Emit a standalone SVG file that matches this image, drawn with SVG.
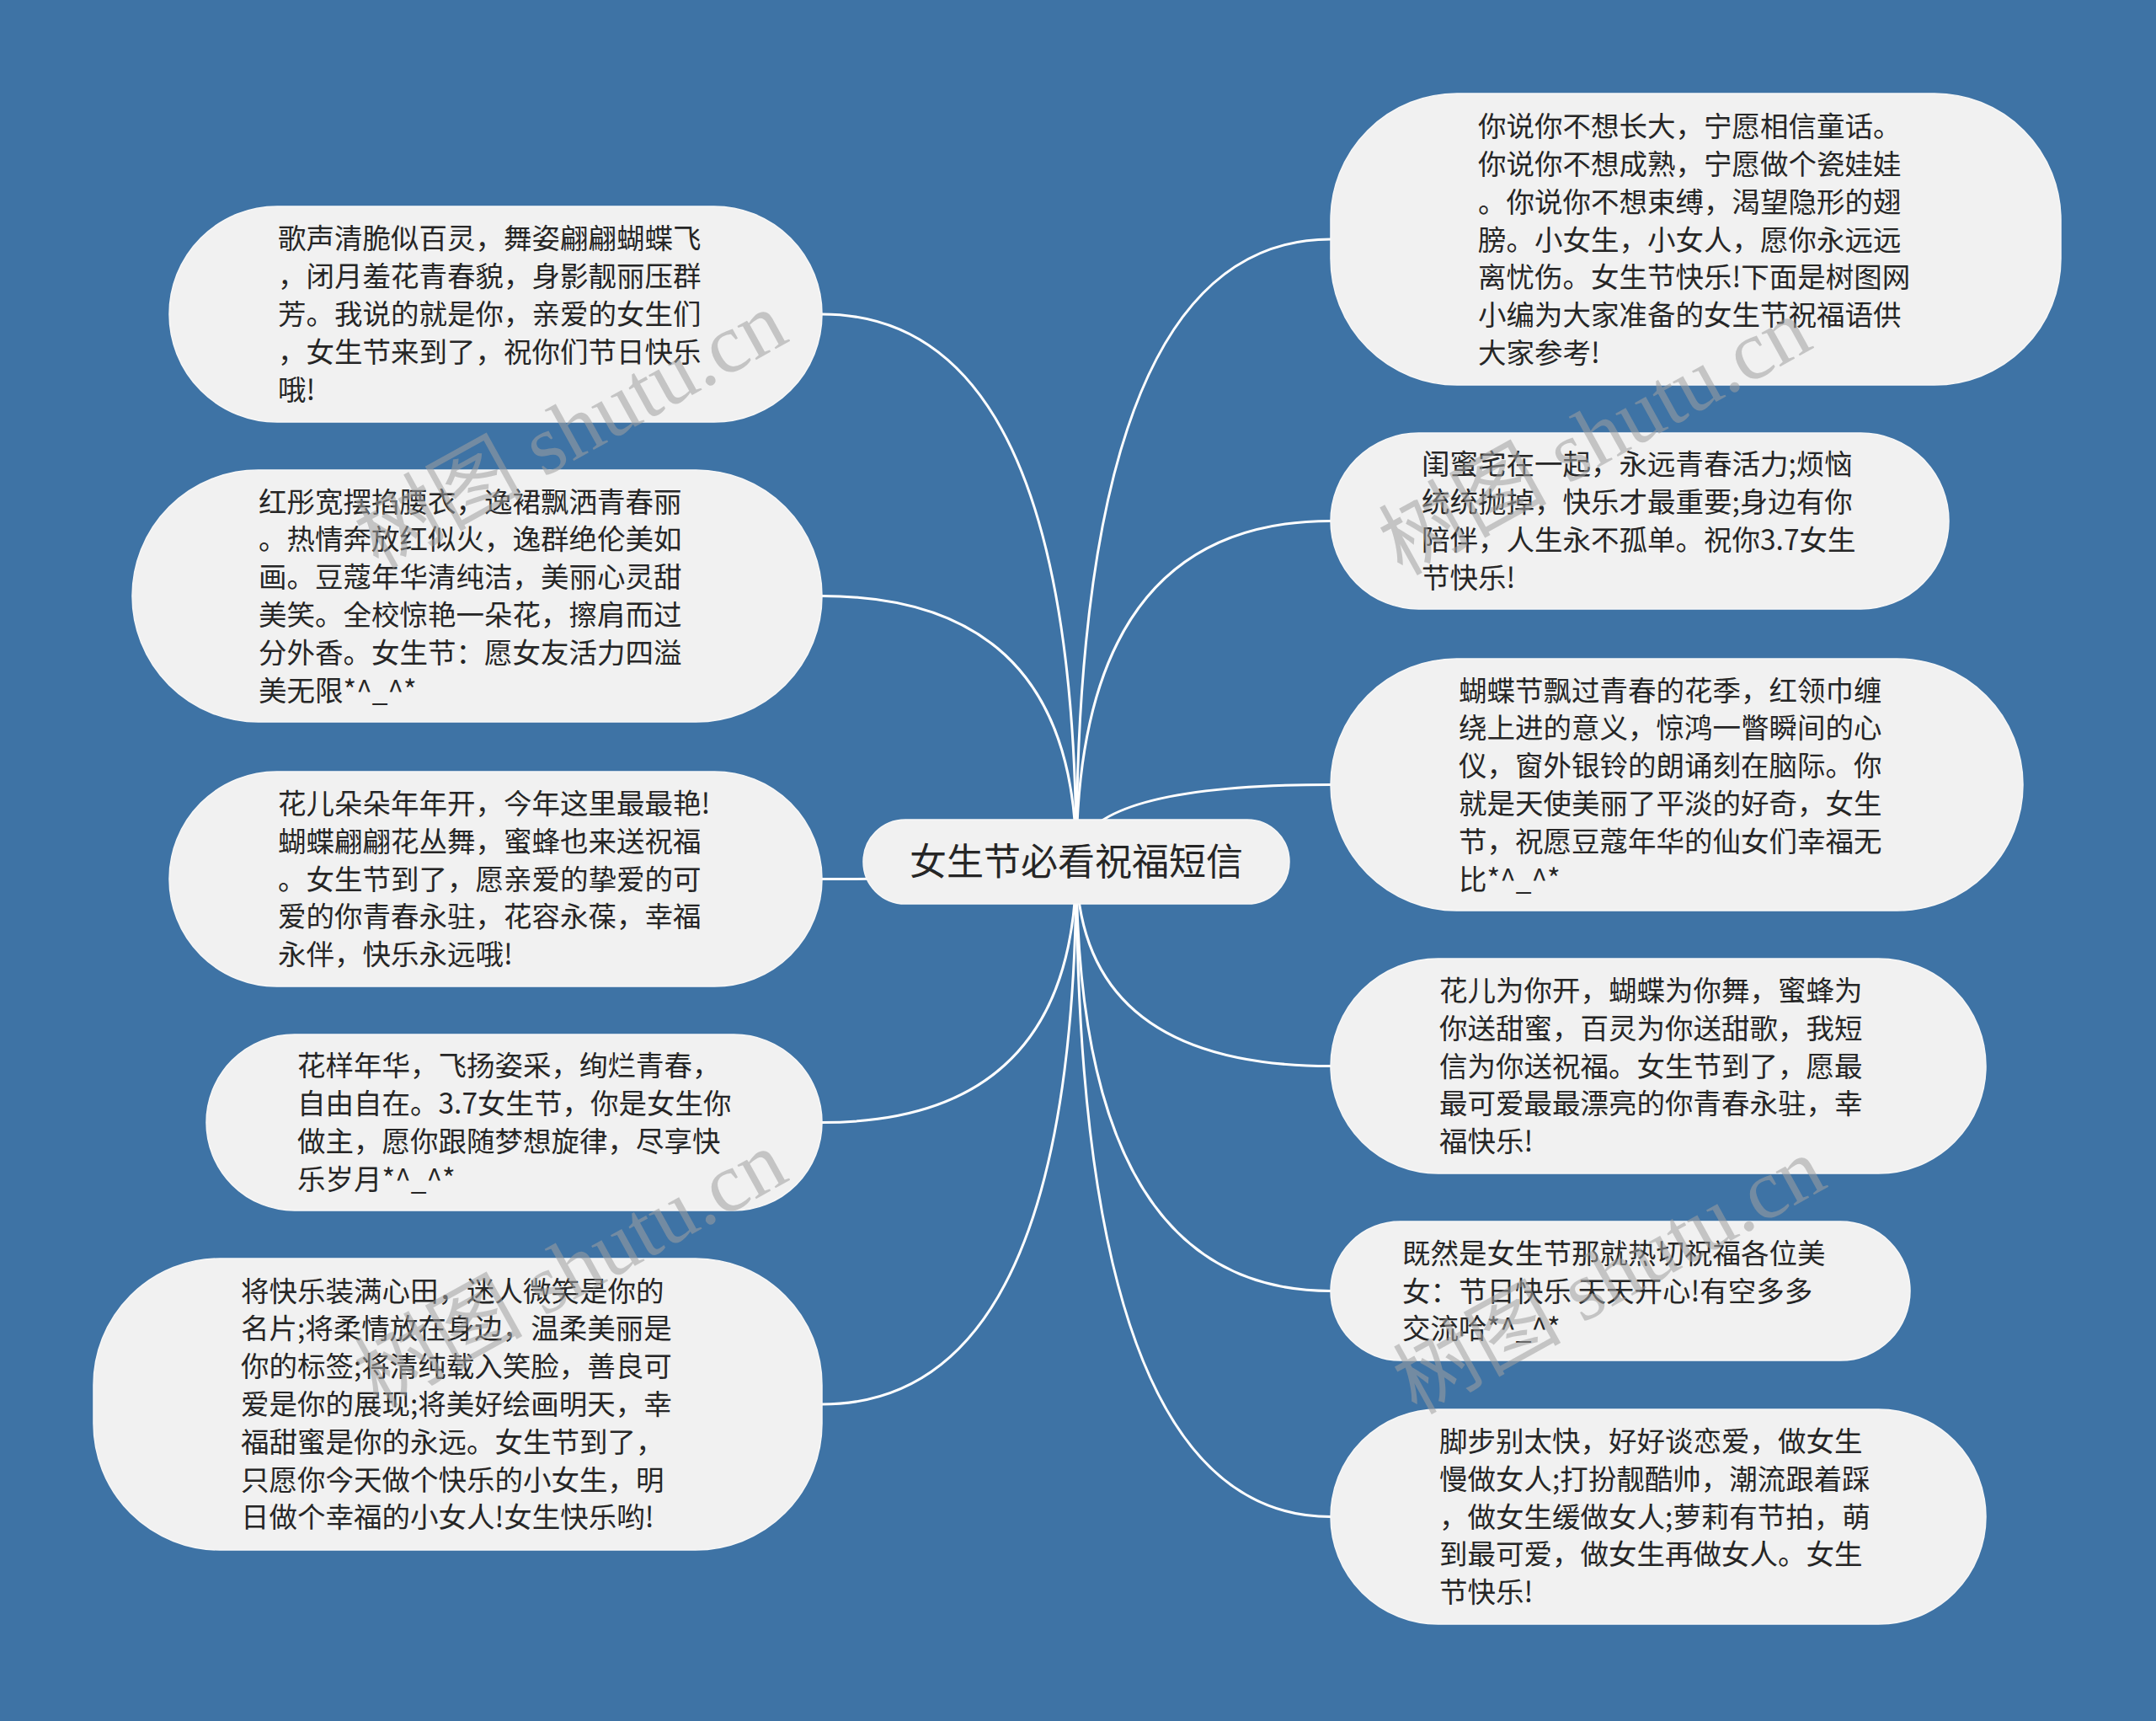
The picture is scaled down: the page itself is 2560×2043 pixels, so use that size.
<svg xmlns="http://www.w3.org/2000/svg" width="2560" height="2043" viewBox="0 0 2560 2043">
<style>
.bg{fill:#3e73a5}
.node{fill:#f1f1f1;stroke:#f7f7f7;stroke-width:1.5}
.t{font-family:"Noto Sans CJK SC","Noto Sans",sans-serif;font-size:33.5px;fill:#262626}
.rt{font-family:"Noto Sans CJK SC","Noto Sans",sans-serif;font-size:44px;fill:#262626;text-anchor:middle}
.link{fill:none;stroke:#ffffff;stroke-width:3}
.wm{font-family:"Liberation Serif","Noto Sans CJK SC",serif;font-size:100px;fill:#a0a0a0;opacity:0.55;text-anchor:middle}
</style>
<rect class="bg" x="0" y="0" width="2560" height="2043"/>
<g id="connectors">
<path class="link" d="M1278,1023 Q1278,373 976,373"/>
<path class="link" d="M1278,1023 Q1278,707.5 976,707.5"/>
<path class="link" d="M1278,1023 Q1278,1043.5 976,1043.5"/>
<path class="link" d="M1278,1023 Q1278,1332.5 976,1332.5"/>
<path class="link" d="M1278,1023 Q1278,1667 976,1667"/>
<path class="link" d="M1278,1023 Q1278,284 1580,284"/>
<path class="link" d="M1278,1023 Q1278,618.5 1580,618.5"/>
<path class="link" d="M1278,1023 Q1278,931.5 1580,931.5"/>
<path class="link" d="M1278,1023 Q1278,1265.5 1580,1265.5"/>
<path class="link" d="M1278,1023 Q1278,1532.5 1580,1532.5"/>
<path class="link" d="M1278,1023 Q1278,1800.5 1580,1800.5"/>
</g>
<g id="root">
<rect class="node" x="1025" y="973" width="506" height="100" rx="50"/>
<text class="rt" x="1278" y="1039">女生节必看祝福短信</text>
</g>
<g id="L1">
<rect class="node" x="201" y="245" width="775" height="256" rx="128"/>
<text class="t" x="330" y="295.4"><tspan x="330">歌声清脆似百灵，舞姿翩翩蝴蝶飞</tspan><tspan x="330" dy="44.8">，闭月羞花青春貌，身影靓丽压群</tspan><tspan x="330" dy="44.8">芳。我说的就是你，亲爱的女生们</tspan><tspan x="330" dy="44.8">，女生节来到了，祝你们节日快乐</tspan><tspan x="330" dy="44.8">哦!</tspan></text>
</g>
<g id="L2">
<rect class="node" x="157" y="558" width="819" height="299" rx="149.5"/>
<text class="t" x="307" y="607.5"><tspan x="307">红彤宽摆掐腰衣，逸裙飘洒青春丽</tspan><tspan x="307" dy="44.8">。热情奔放红似火，逸群绝伦美如</tspan><tspan x="307" dy="44.8">画。豆蔻年华清纯洁，美丽心灵甜</tspan><tspan x="307" dy="44.8">美笑。全校惊艳一朵花，擦肩而过</tspan><tspan x="307" dy="44.8">分外香。女生节：愿女友活力四溢</tspan><tspan x="307" dy="44.8">美无限*^_^*</tspan></text>
</g>
<g id="L3">
<rect class="node" x="201" y="916" width="775" height="255" rx="127.5"/>
<text class="t" x="330" y="966"><tspan x="330">花儿朵朵年年开，今年这里最最艳!</tspan><tspan x="330" dy="44.8">蝴蝶翩翩花丛舞，蜜蜂也来送祝福</tspan><tspan x="330" dy="44.8">。女生节到了，愿亲爱的挚爱的可</tspan><tspan x="330" dy="44.8">爱的你青春永驻，花容永葆，幸福</tspan><tspan x="330" dy="44.8">永伴，快乐永远哦!</tspan></text>
</g>
<g id="L4">
<rect class="node" x="245" y="1228" width="731" height="209" rx="104.5"/>
<text class="t" x="353" y="1277.3"><tspan x="353">花样年华，飞扬姿采，绚烂青春，</tspan><tspan x="353" dy="44.8">自由自在。3.7女生节，你是女生你</tspan><tspan x="353" dy="44.8">做主，愿你跟随梦想旋律，尽享快</tspan><tspan x="353" dy="44.8">乐岁月*^_^*</tspan></text>
</g>
<g id="L5">
<rect class="node" x="111" y="1494" width="865" height="346" rx="150"/>
<text class="t" x="286" y="1544.6"><tspan x="286">将快乐装满心田，迷人微笑是你的</tspan><tspan x="286" dy="44.8">名片;将柔情放在身边，温柔美丽是</tspan><tspan x="286" dy="44.8">你的标签;将清纯载入笑脸，善良可</tspan><tspan x="286" dy="44.8">爱是你的展现;将美好绘画明天，幸</tspan><tspan x="286" dy="44.8">福甜蜜是你的永远。女生节到了，</tspan><tspan x="286" dy="44.8">只愿你今天做个快乐的小女生，明</tspan><tspan x="286" dy="44.8">日做个幸福的小女人!女生快乐哟!</tspan></text>
</g>
<g id="R1">
<rect class="node" x="1580" y="111" width="867" height="346" rx="150"/>
<text class="t" x="1755" y="162.1"><tspan x="1755">你说你不想长大，宁愿相信童话。</tspan><tspan x="1755" dy="44.8">你说你不想成熟，宁愿做个瓷娃娃</tspan><tspan x="1755" dy="44.8">。你说你不想束缚，渴望隐形的翅</tspan><tspan x="1755" dy="44.8">膀。小女生，小女人，愿你永远远</tspan><tspan x="1755" dy="44.8">离忧伤。女生节快乐!下面是树图网</tspan><tspan x="1755" dy="44.8">小编为大家准备的女生节祝福语供</tspan><tspan x="1755" dy="44.8">大家参考!</tspan></text>
</g>
<g id="R2">
<rect class="node" x="1580" y="514" width="734" height="209" rx="104.5"/>
<text class="t" x="1688" y="563.3"><tspan x="1688">闺蜜宅在一起，永远青春活力;烦恼</tspan><tspan x="1688" dy="44.8">统统抛掉，快乐才最重要;身边有你</tspan><tspan x="1688" dy="44.8">陪伴，人生永不孤单。祝你3.7女生</tspan><tspan x="1688" dy="44.8">节快乐!</tspan></text>
</g>
<g id="R3">
<rect class="node" x="1580" y="782" width="822" height="299" rx="149.5"/>
<text class="t" x="1732" y="831.5"><tspan x="1732">蝴蝶节飘过青春的花季，红领巾缠</tspan><tspan x="1732" dy="44.8">绕上进的意义，惊鸿一瞥瞬间的心</tspan><tspan x="1732" dy="44.8">仪，窗外银铃的朗诵刻在脑际。你</tspan><tspan x="1732" dy="44.8">就是天使美丽了平淡的好奇，女生</tspan><tspan x="1732" dy="44.8">节，祝愿豆蔻年华的仙女们幸福无</tspan><tspan x="1732" dy="44.8">比*^_^*</tspan></text>
</g>
<g id="R4">
<rect class="node" x="1580" y="1138" width="778" height="255" rx="127.5"/>
<text class="t" x="1709" y="1188"><tspan x="1709">花儿为你开，蝴蝶为你舞，蜜蜂为</tspan><tspan x="1709" dy="44.8">你送甜蜜，百灵为你送甜歌，我短</tspan><tspan x="1709" dy="44.8">信为你送祝福。女生节到了，愿最</tspan><tspan x="1709" dy="44.8">最可爱最最漂亮的你青春永驻，幸</tspan><tspan x="1709" dy="44.8">福快乐!</tspan></text>
</g>
<g id="R5">
<rect class="node" x="1580" y="1450" width="688" height="165" rx="82.5"/>
<text class="t" x="1665" y="1499.7"><tspan x="1665">既然是女生节那就热切祝福各位美</tspan><tspan x="1665" dy="44.8">女：节日快乐 天天开心!有空多多</tspan><tspan x="1665" dy="44.8">交流哈*^_^*</tspan></text>
</g>
<g id="R6">
<rect class="node" x="1580" y="1673" width="778" height="255" rx="127.5"/>
<text class="t" x="1709" y="1723"><tspan x="1709">脚步别太快，好好谈恋爱，做女生</tspan><tspan x="1709" dy="44.8">慢做女人;打扮靓酷帅，潮流跟着踩</tspan><tspan x="1709" dy="44.8">，做女生缓做女人;萝莉有节拍，萌</tspan><tspan x="1709" dy="44.8">到最可爱，做女生再做女人。女生</tspan><tspan x="1709" dy="44.8">节快乐!</tspan></text>
</g>
<g id="watermarks">
<text class="wm" transform="translate(694,540) rotate(-29)">树图 shutu.cn</text>
<text class="wm" transform="translate(1910,548) rotate(-29)">树图 shutu.cn</text>
<text class="wm" transform="translate(694,1536) rotate(-29)">树图 shutu.cn</text>
<text class="wm" transform="translate(1927,1544) rotate(-29)">树图 shutu.cn</text>
</g>
</svg>
